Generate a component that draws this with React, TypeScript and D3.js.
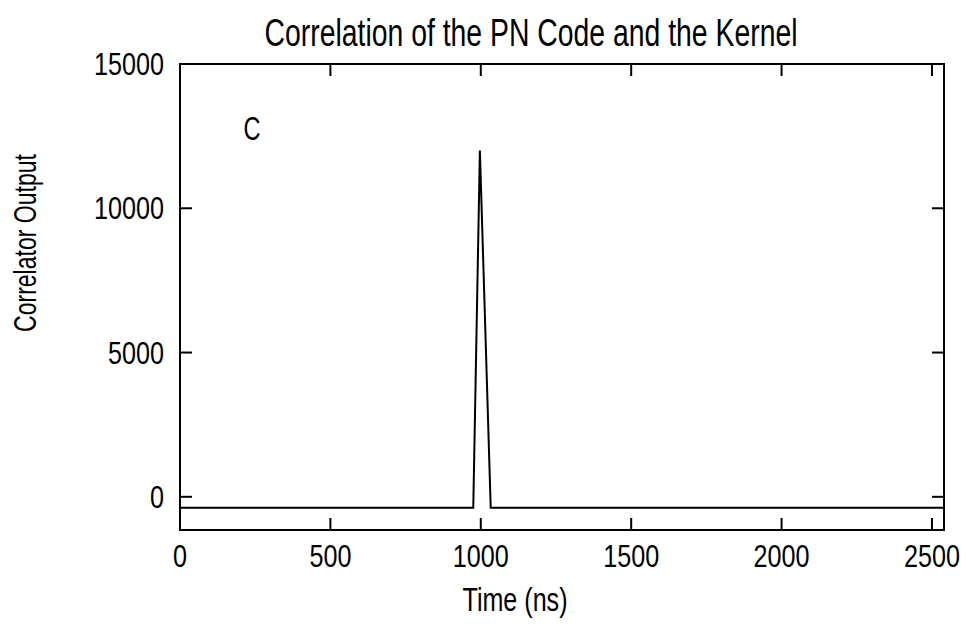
import React from "react";
import * as d3 from "d3";

const timeNs = [0, 975, 997, 1033, 2540];
const correlatorOutput = [-380, -380, 12000, -380, -380];
const xTicks = [0, 500, 1000, 1500, 2000, 2500];
const yTicks = [0, 5000, 10000, 15000];
const titleText = "Correlation of the PN Code and the Kernel";
const xLabelText = "Time (ns)";
const yLabelText = "Correlator Output";
const panelLetter = "C";

const W = 966;
const H = 631;
const M = { left: 180, right: 944, top: 64, bottom: 530 };
const FONT = "'Liberation Sans', Arial, sans-serif";
const SX = 0.8;

function NarrowText(props: {
  x: number;
  y: number;
  width: number;
  size: number;
  anchor: "start" | "middle" | "end";
  rotate?: boolean;
  children: React.ReactNode;
}) {
  const { x, y, width, size, anchor, rotate, children } = props;
  const tr = `translate(${x},${y})${rotate ? " rotate(-90)" : ""} scale(${SX},1)`;
  return (
    <text
      transform={tr}
      textAnchor={anchor}
      fontFamily={FONT}
      fontSize={size}
      textLength={width / SX}
      lengthAdjust="spacingAndGlyphs"
      fill="#000"
    >
      {children}
    </text>
  );
}

export default function App() {
  const x = d3.scaleLinear().domain([0, 2540]).range([M.left, M.right]);
  const y = d3.scaleLinear().domain([-1150, 15000]).range([M.bottom, M.top]);
  const pts = timeNs.map((t, i) => [t, correlatorOutput[i]] as [number, number]);
  const line = d3
    .line<[number, number]>()
    .x((d) => x(d[0]))
    .y((d) => y(d[1]));
  const tl = 12;
  const digitW = 14;
  return (
    <svg width={W} height={H} style={{ position: "absolute", left: 0, top: 0, background: "#fff" }}>
      <rect x={0} y={0} width={W} height={H} fill="#fff" />
      <NarrowText x={531} y={46} width={533} size={38} anchor="middle">
        {titleText}
      </NarrowText>
      <rect x={M.left} y={M.top} width={M.right - M.left} height={M.bottom - M.top} fill="none" stroke="#000" strokeWidth={2} />
      {xTicks.map((t) => (
        <g key={"x" + t}>
          <line x1={x(t)} x2={x(t)} y1={M.bottom} y2={M.bottom - tl} stroke="#000" strokeWidth={2} />
          <line x1={x(t)} x2={x(t)} y1={M.top} y2={M.top + tl} stroke="#000" strokeWidth={2} />
          <NarrowText x={x(t)} y={567} width={String(t).length * digitW} size={31} anchor="middle">
            {t}
          </NarrowText>
        </g>
      ))}
      {yTicks.map((t) => (
        <g key={"y" + t}>
          <line x1={M.left} x2={M.left + tl} y1={y(t)} y2={y(t)} stroke="#000" strokeWidth={2} />
          <line x1={M.right} x2={M.right - tl} y1={y(t)} y2={y(t)} stroke="#000" strokeWidth={2} />
          <NarrowText x={164} y={y(t) + 11} width={String(t).length * digitW} size={31} anchor="end">
            {t}
          </NarrowText>
        </g>
      ))}
      <path d={line(pts) || ""} fill="none" stroke="#000" strokeWidth={2} />
      <NarrowText x={252} y={140} width={17} size={34} anchor="middle">
        {panelLetter}
      </NarrowText>
      <NarrowText x={515} y={611} width={105} size={34} anchor="middle">
        {xLabelText}
      </NarrowText>
      <NarrowText x={36} y={243} width={178} size={31} anchor="middle" rotate>
        {yLabelText}
      </NarrowText>
    </svg>
  );
}
